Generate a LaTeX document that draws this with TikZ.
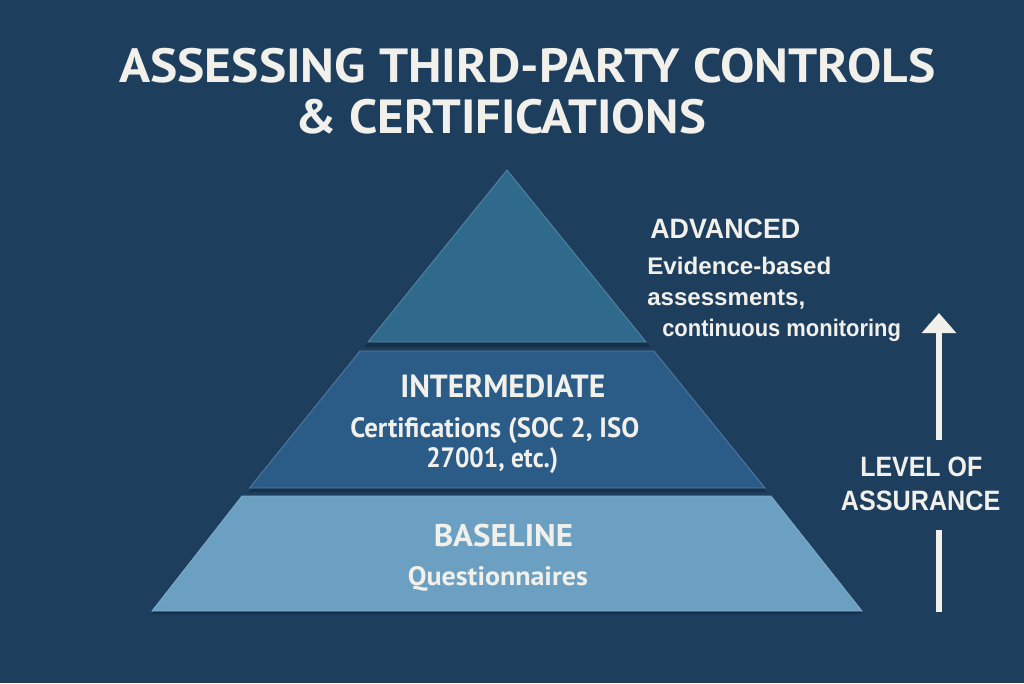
\documentclass[tikz,border=0pt]{standalone}
\usepackage{fontspec}
\usepackage{graphicx}
\usetikzlibrary{arrows.meta}
\newfontfamily\ptsans{PT Sans}
\newfontfamily\libsans{Liberation Sans}
\definecolor{bg}{HTML}{1E3E5E}
\definecolor{shadowc}{HTML}{15304A}
\definecolor{tiertop}{HTML}{2F6A8C}
\definecolor{tiermid}{HTML}{2B5C88}
\definecolor{tierbase}{HTML}{6CA0C2}
\definecolor{ink}{HTML}{F2F0EA}
\newcommand\fitw[2]{\resizebox{#1}{\height}{#2}}
\tikzset{
  tier/.style={line width=0.6pt},
  tiershadow/.style={fill=shadowc},
  lbl/.style={text=ink, inner sep=0pt, anchor=base west},
  assur/.style={draw=ink, line width=4.5pt},
}
\begin{document}
\begin{tikzpicture}[x=0.75pt,y=-0.75pt]
\fill[bg] (0,0) rectangle (1024,683);
\useasboundingbox (0,0) rectangle (1024,683);

% shadows
\fill[tiershadow] (507,175) -- (650,347) -- (364,347) -- cycle;
\fill[tiershadow] (360,356) -- (654,356) -- (766,492) -- (249,492) -- cycle;
\fill[tiershadow] (242,500) -- (771,500) -- (862,614) -- (152,614) -- cycle;

% tiers
\filldraw[tier, fill=tiertop, draw=tiertop!80!white] (507,170) -- (646,342) -- (368,342) -- cycle;
\filldraw[tier, fill=tiermid, draw=tiermid!80!white] (360,351) -- (654,351) -- (765,488) -- (249.5,488) -- cycle;
\filldraw[tier, fill=tierbase, draw=tierbase!85!white] (242,496) -- (771,496) -- (862,611) -- (152,611) -- cycle;

% title
\node[lbl] (t1) at (119,82.7) {\fitw{612pt}{\ptsans\bfseries\fontsize{36}{40}\selectfont ASSESSING THIRD-PARTY CONTROLS}};
\node[lbl] (t2) at (295,133.3) {\fitw{308pt}{\ptsans\bfseries\fontsize{36}{40}\selectfont \& CERTIFICATIONS}};

% advanced
\node[lbl] (adv) at (650,238) {\fitw{112.5pt}{\libsans\bfseries\fontsize{21}{24}\selectfont ADVANCED}};
\node[lbl] (adv1) at (647,274) {\fitw{138pt}{\libsans\bfseries\fontsize{18}{20}\selectfont Evidence-based}};
\node[lbl] (adv2) at (647,305.5) {\fitw{118.5pt}{\libsans\bfseries\fontsize{18}{20}\selectfont assessments,}};
\node[lbl] (adv3) at (662,336.7) {\fitw{179pt}{\libsans\bfseries\fontsize{18}{20}\selectfont continuous monitoring}};

% intermediate
\node[lbl] (int) at (400,397) {\fitw{153.75pt}{\ptsans\bfseries\fontsize{24}{28}\selectfont INTERMEDIATE}};
\node[lbl] (int1) at (350,437.3) {\fitw{216.75pt}{\ptsans\bfseries\fontsize{21}{24}\selectfont Certifications (SOC 2, ISO}};
\node[lbl] (int2) at (426,467.3) {\fitw{99pt}{\ptsans\bfseries\fontsize{21}{24}\selectfont 27001, etc.)}};

% baseline
\node[lbl] (bas) at (433.5,546.7) {\fitw{104.4pt}{\ptsans\bfseries\fontsize{23.5}{28}\selectfont BASELINE}};
\node[lbl] (bas1) at (407.6,585.5) {\fitw{135pt}{\ptsans\bfseries\fontsize{20}{24}\selectfont Questionnaires}};

% level of assurance
\node[lbl] (loa1) at (860,476.7) {\fitw{91.5pt}{\libsans\bfseries\fontsize{21}{24}\selectfont LEVEL OF}};
\node[lbl] (loa2) at (840.7,510) {\fitw{119.5pt}{\libsans\bfseries\fontsize{21}{24}\selectfont ASSURANCE}};

\coordinate (atop) at (939,313);
\coordinate (agapt) at (939,440);
\coordinate (agapb) at (939,530);
\coordinate (abot) at (939,612);
\draw[assur, -{Triangle[width=25pt,length=15pt]}] (agapt) -- (atop);
\draw[assur] (abot) -- (agapb);
\end{tikzpicture}
\end{document}
